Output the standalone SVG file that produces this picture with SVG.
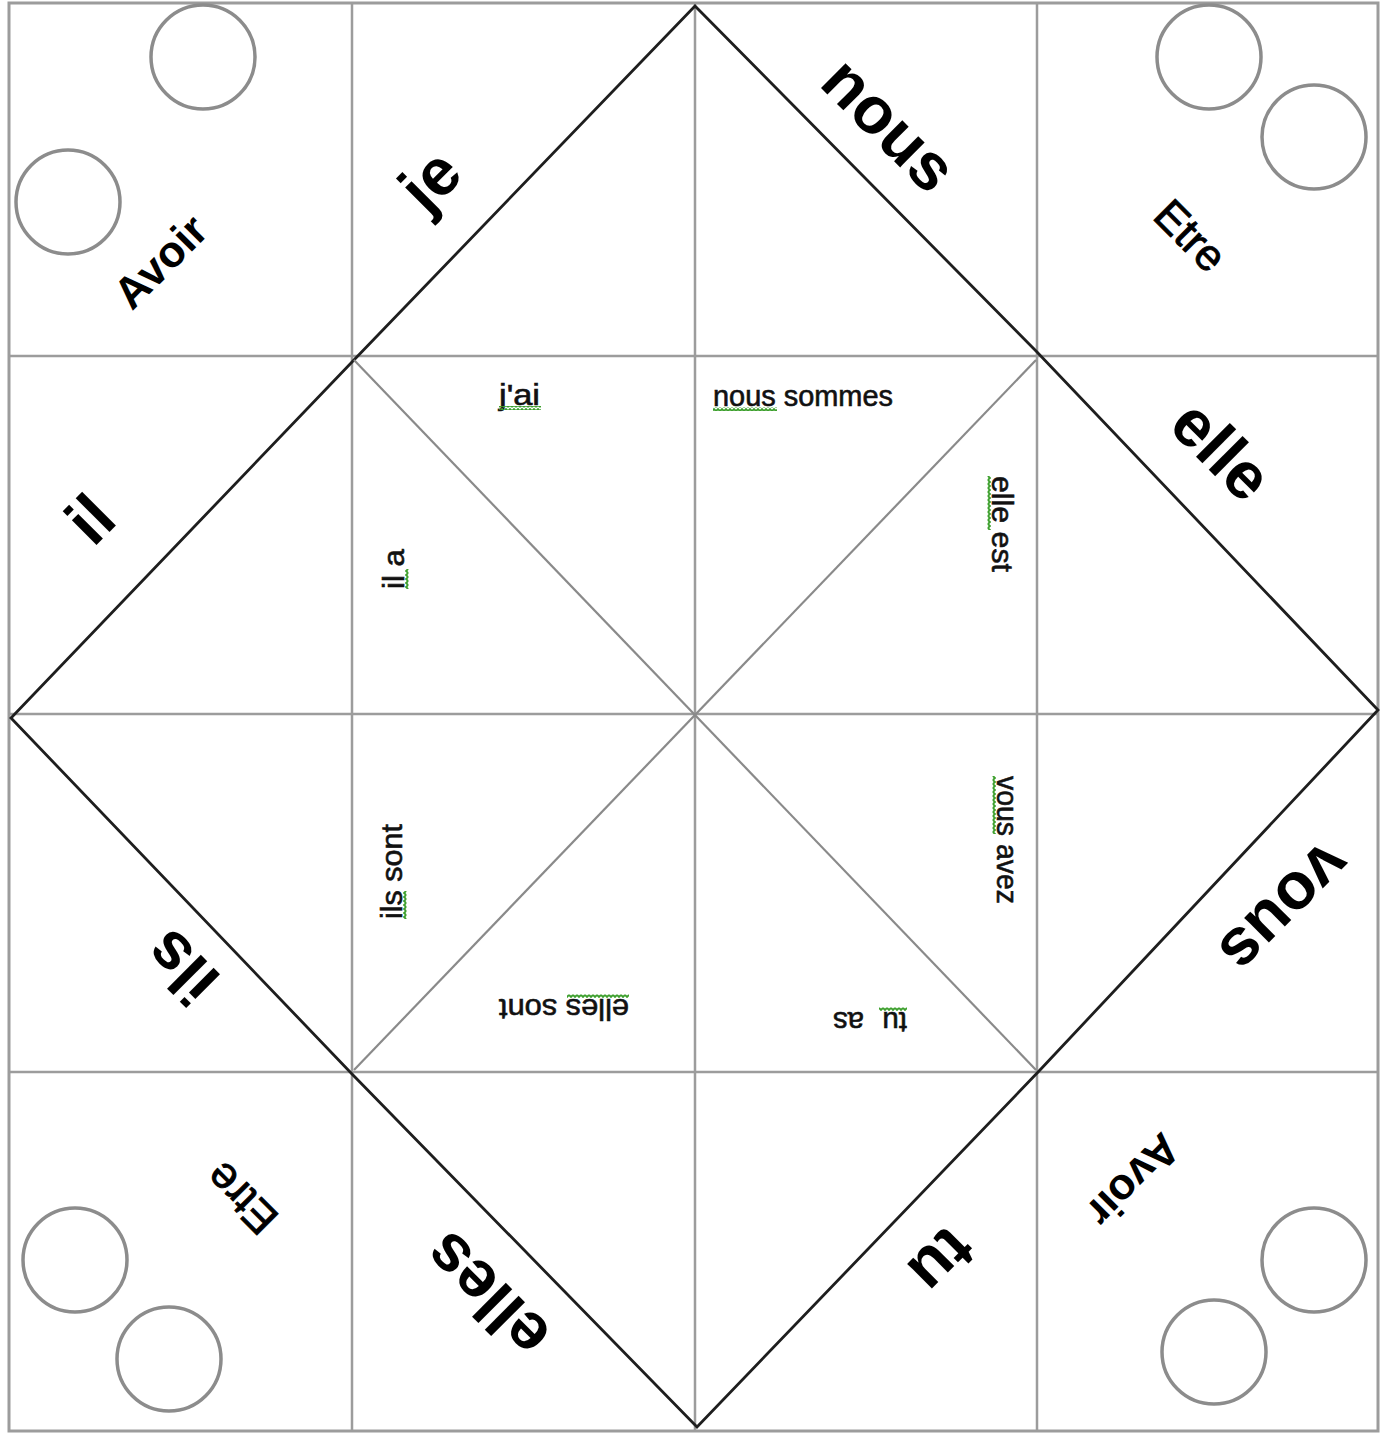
<svg xmlns="http://www.w3.org/2000/svg" width="1381" height="1439" viewBox="0 0 1381 1439">
<style>
.grid{stroke:#9c9c9c;stroke-width:2.5;fill:none}
.outer{stroke:#1e1e1e;stroke-width:2.8;fill:none}
.inner{stroke:#8a8a8a;stroke-width:2.2;fill:none}
.ring{stroke:#8c8c8c;stroke-width:3.5;fill:none}
.big{font-family:"Liberation Sans",Arial,sans-serif;font-weight:bold;font-size:66px;fill:#000;text-anchor:middle}
.corner-b{font-family:"Liberation Sans",Arial,sans-serif;font-weight:bold;font-size:44px;fill:#000;text-anchor:middle}
.corner-r{font-family:"Liberation Sans",Arial,sans-serif;font-size:44px;fill:#000;stroke:#000;stroke-width:0.9;text-anchor:middle}
.small{font-family:"Liberation Sans",Arial,sans-serif;font-size:29px;fill:#111;stroke:#111;stroke-width:0.6}
</style>
<defs>
<pattern id="wave" width="4" height="4" patternUnits="userSpaceOnUse"><path d="M0,3 L2,1 L4,3" fill="none" stroke="#3c9f2c" stroke-width="1.8"/></pattern>
</defs>
<rect width="1381" height="1439" fill="#fff"/>
<g id="connectors">
<rect class="grid" x="9" y="3" width="1369" height="1428" style="stroke-width:3"/>
<line class="grid" x1="352" y1="3" x2="352" y2="1431"/>
<line class="grid" x1="695" y1="3" x2="695" y2="1431"/>
<line class="grid" x1="1037" y1="3" x2="1037" y2="1431"/>
<line class="grid" x1="9" y1="356" x2="1378" y2="356"/>
<line class="grid" x1="9" y1="714" x2="1378" y2="714"/>
<line class="grid" x1="9" y1="1072" x2="1378" y2="1072"/>
<polygon class="outer" points="695,6 1037,352 1378,710 1040,1070 697,1427 352,1074 11,718 352,362"/>
<line class="inner" x1="354" y1="360" x2="1036" y2="1070"/>
<line class="inner" x1="1036" y1="360" x2="354" y2="1070"/>
</g>
<g id="corner-tl">
<circle class="ring" cx="203" cy="57" r="52"/>
<circle class="ring" cx="68" cy="202" r="52"/>
<text class="corner-b" transform="translate(161,262) rotate(-45)" dy="0.33em">Avoir</text>
</g>
<g id="corner-tr">
<circle class="ring" cx="1209" cy="57" r="52"/>
<circle class="ring" cx="1314" cy="137" r="52"/>
<text class="corner-r" transform="translate(1190,236) rotate(45)" dy="0.33em">Etre</text>
</g>
<g id="corner-bl">
<circle class="ring" cx="75" cy="1260" r="52"/>
<circle class="ring" cx="169" cy="1359" r="52"/>
<text class="corner-r" transform="translate(242,1198) rotate(225)" dy="0.33em">Etre</text>
</g>
<g id="corner-br">
<circle class="ring" cx="1314" cy="1260" r="52"/>
<circle class="ring" cx="1214" cy="1352" r="52"/>
<text class="corner-b" transform="translate(1133,1180) rotate(135)" dy="0.33em">Avoir</text>
</g>
<g id="flap-je"><text class="big" transform="translate(432,182) rotate(-45)" dy="0.3em">je</text></g>
<g id="flap-nous"><text class="big" transform="translate(886,128) rotate(45)" dy="0.27em">nous</text></g>
<g id="flap-elle"><text class="big" transform="translate(1221,451) rotate(45)" dy="0.33em">elle</text></g>
<g id="flap-vous"><text class="big" transform="translate(1282,905) rotate(135)" dy="0.27em">vous</text></g>
<g id="flap-tu"><text class="big" transform="translate(940,1259) rotate(135)" dy="0.3em">tu</text></g>
<g id="flap-elles"><text class="big" transform="translate(487,1295) rotate(225)" dy="0.33em">elles</text></g>
<g id="flap-ils"><text class="big" transform="translate(182,967) rotate(225)" dy="0.33em">ils</text></g>
<g id="flap-il"><text class="big" transform="translate(90,519) rotate(-45)" dy="0.35em">il</text></g>
<g id="inner-jai">
<text class="small" x="499" y="405" textLength="41" lengthAdjust="spacingAndGlyphs">j'ai</text>
<rect x="499" y="406" width="42" height="4" fill="url(#wave)"/>
</g>
<g id="inner-nous">
<text class="small" x="713" y="406" textLength="180" lengthAdjust="spacingAndGlyphs">nous sommes</text>
<rect x="713" y="407" width="64" height="4" fill="url(#wave)"/>
</g>
<g id="inner-ila">
<text class="small" transform="translate(404,589) rotate(-90)" textLength="40" lengthAdjust="spacingAndGlyphs">il a</text>
<rect width="20" height="4" fill="url(#wave)" transform="translate(404,589) rotate(-90) translate(0,1)"/>
</g>
<g id="inner-elle">
<text class="small" transform="translate(992,476) rotate(90)" textLength="96" lengthAdjust="spacingAndGlyphs">elle est</text>
<rect width="54" height="4" fill="url(#wave)" transform="translate(992,476) rotate(90) translate(0,1)"/>
</g>
<g id="inner-vous">
<text class="small" transform="translate(997,776) rotate(90)" textLength="128" lengthAdjust="spacingAndGlyphs">vous avez</text>
<rect width="58" height="4" fill="url(#wave)" transform="translate(997,776) rotate(90) translate(0,1)"/>
</g>
<g id="inner-ils">
<text class="small" transform="translate(402,919) rotate(-90)" textLength="95" lengthAdjust="spacingAndGlyphs">ils sont</text>
<rect width="28" height="4" fill="url(#wave)" transform="translate(402,919) rotate(-90) translate(0,1)"/>
</g>
<g id="inner-elles">
<text class="small" transform="translate(629,999) rotate(180)" textLength="130" lengthAdjust="spacingAndGlyphs">elles sont</text>
<rect width="62" height="4" fill="url(#wave)" transform="translate(629,999) rotate(180) translate(0,1)"/>
</g>
<g id="inner-tu">
<text class="small" transform="translate(907,1012) rotate(180)" textLength="74" lengthAdjust="spacingAndGlyphs" word-spacing="10">tu as</text>
<rect width="28" height="4" fill="url(#wave)" transform="translate(907,1012) rotate(180) translate(0,1)"/>
</g>
</svg>
